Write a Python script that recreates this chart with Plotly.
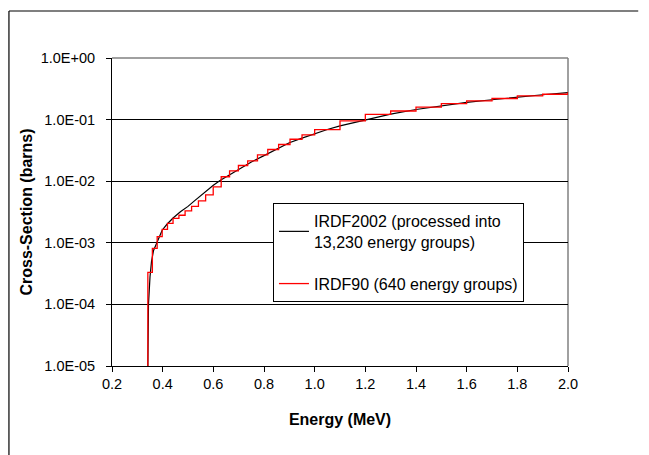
import plotly.graph_objects as go

# IRDF2002 (fine group) curve
black_energy = [0.3390, 0.3405, 0.344, 0.350, 0.356, 0.364, 0.372, 0.380, 0.390, 0.398,
                0.417, 0.44, 0.47, 0.50, 0.523, 0.55, 0.575, 0.60, 0.628, 0.66,
                0.70, 0.75, 0.80, 0.85, 0.90, 0.95, 1.0, 1.05, 1.1, 1.2, 1.3,
                1.4, 1.5, 1.6, 1.7, 1.8, 1.9, 2.0]
black_xs = [1e-6, 1e-5, 1e-4, 2.8e-4, 5e-4, 7.5e-4, 9e-4, 1.1e-3, 1.4e-3, 1.6e-3,
            2.0e-3, 2.5e-3, 3.2e-3, 3.9e-3, 4.7e-3, 5.8e-3, 7.2e-3, 8.6e-3, 1.04e-2, 1.25e-2,
            1.55e-2, 2.05e-2, 2.6e-2, 3.3e-2, 4.2e-2, 5.0e-2, 5.95e-2, 6.9e-2, 7.9e-2, 0.1, 0.123,
            0.146, 0.168, 0.19, 0.21, 0.232, 0.253, 0.275]

# IRDF90 (640 group) step structure: group lower edges + final upper edge
red_edges = [0.3245, 0.3415, 0.3594, 0.3783, 0.3981, 0.4190, 0.4410, 0.4642, 0.4885, 0.5142,
             0.5412, 0.5696, 0.5995, 0.6310, 0.6641, 0.6990, 0.7356, 0.7743, 0.8149, 0.8577,
             0.9027, 0.9501, 1.0, 1.1, 1.2, 1.3, 1.4, 1.5, 1.6, 1.7, 1.8, 1.9, 2.0, 2.1]
red_values = [1e-7, 3.3e-4, 8.1e-4, 1.26e-3, 1.65e-3, 2.06e-3, 2.5e-3, 2.8e-3, 3.3e-3, 3.9e-3,
              4.8e-3, 6.0e-3, 8.1e-3, 1.18e-2, 1.47e-2, 1.8e-2, 2.14e-2, 2.68e-2, 3.27e-2, 3.94e-2,
              4.8e-2, 5.65e-2, 6.9e-2, 9.5e-2, 0.122, 0.138, 0.16, 0.182, 0.201, 0.22,
              0.242, 0.258, 0.275]

x_ticks = [0.2, 0.4, 0.6, 0.8, 1.0, 1.2, 1.4, 1.6, 1.8, 2.0]
x_tick_labels = ["0.2", "0.4", "0.6", "0.8", "1.0", "1.2", "1.4", "1.6", "1.8", "2.0"]
y_ticks = [1e-5, 1e-4, 1e-3, 1e-2, 1e-1, 1e0]
y_tick_labels = ["1.0E-05", "1.0E-04", "1.0E-03", "1.0E-02", "1.0E-01", "1.0E+00"]

FONT = "Arial, Liberation Sans, sans-serif"

fig = go.Figure()
fig.add_trace(go.Scatter(
    x=black_energy, y=black_xs, mode="lines",
    line=dict(color="black", width=1.2),
    name="IRDF2002 (processed into<br>13,230 energy groups)",
    legendgroup="a",
))
fig.add_trace(go.Scatter(
    x=red_edges, y=red_values + [red_values[-1]], mode="lines",
    line=dict(color="#ff0000", width=1.3, shape="hv"),
    name="IRDF90 (640 energy groups)",
    legendgroup="b",
))

fig.update_layout(
    width=649, height=455,
    margin=dict(l=104, r=89, t=50, b=97),
    paper_bgcolor="white", plot_bgcolor="white",
    font=dict(family=FONT, size=14.5, color="black"),
    showlegend=True,
    legend=dict(
        x=0.353, y=0.529, xanchor="left", yanchor="top",
        bgcolor="white", bordercolor="black", borderwidth=1,
        font=dict(family=FONT, size=16, color="black"),
        traceorder="grouped", tracegroupgap=18,
        itemwidth=30,
    ),
    xaxis=dict(
        range=[0.2, 2.0], tickvals=x_ticks, ticktext=x_tick_labels,
        ticks="outside", ticklen=5, tickcolor="black",
        showline=True, linecolor="black", linewidth=1,
        showgrid=False, zeroline=False,
        title=dict(text="<b>Energy (MeV)</b>", font=dict(family=FONT, size=16), standoff=22),
    ),
    yaxis=dict(
        type="log", range=[-5, 0], tickvals=y_ticks, ticktext=y_tick_labels,
        ticks="outside", ticklen=5, tickcolor="black",
        ticklabelstandoff=8,
        showline=True, linecolor="black", linewidth=1,
        showgrid=True, gridcolor="black", gridwidth=1,
        zeroline=False,
        title=dict(text="<b>Cross-Section (barns)</b>", font=dict(family=FONT, size=16), standoff=4),
    ),
    shapes=[
        # gray top/right plot-area border
        dict(type="line", xref="paper", yref="paper", x0=0, x1=1, y0=1, y1=1,
             line=dict(color="#808080", width=1.5), layer="above"),
        dict(type="line", xref="paper", yref="paper", x0=1, x1=1, y0=0, y1=1,
             line=dict(color="#808080", width=1.5), layer="below"),
        # outer chart frame (top and left)
        dict(type="line", xref="paper", yref="paper", x0=-0.226, x1=1.154, y0=1.1526, y1=1.1526,
             line=dict(color="black", width=1.2)),
        dict(type="line", xref="paper", yref="paper", x0=-0.226, x1=-0.226, y0=1.1526, y1=-0.35,
             line=dict(color="black", width=1.2)),
    ],
)

fig.write_html("out.html")
